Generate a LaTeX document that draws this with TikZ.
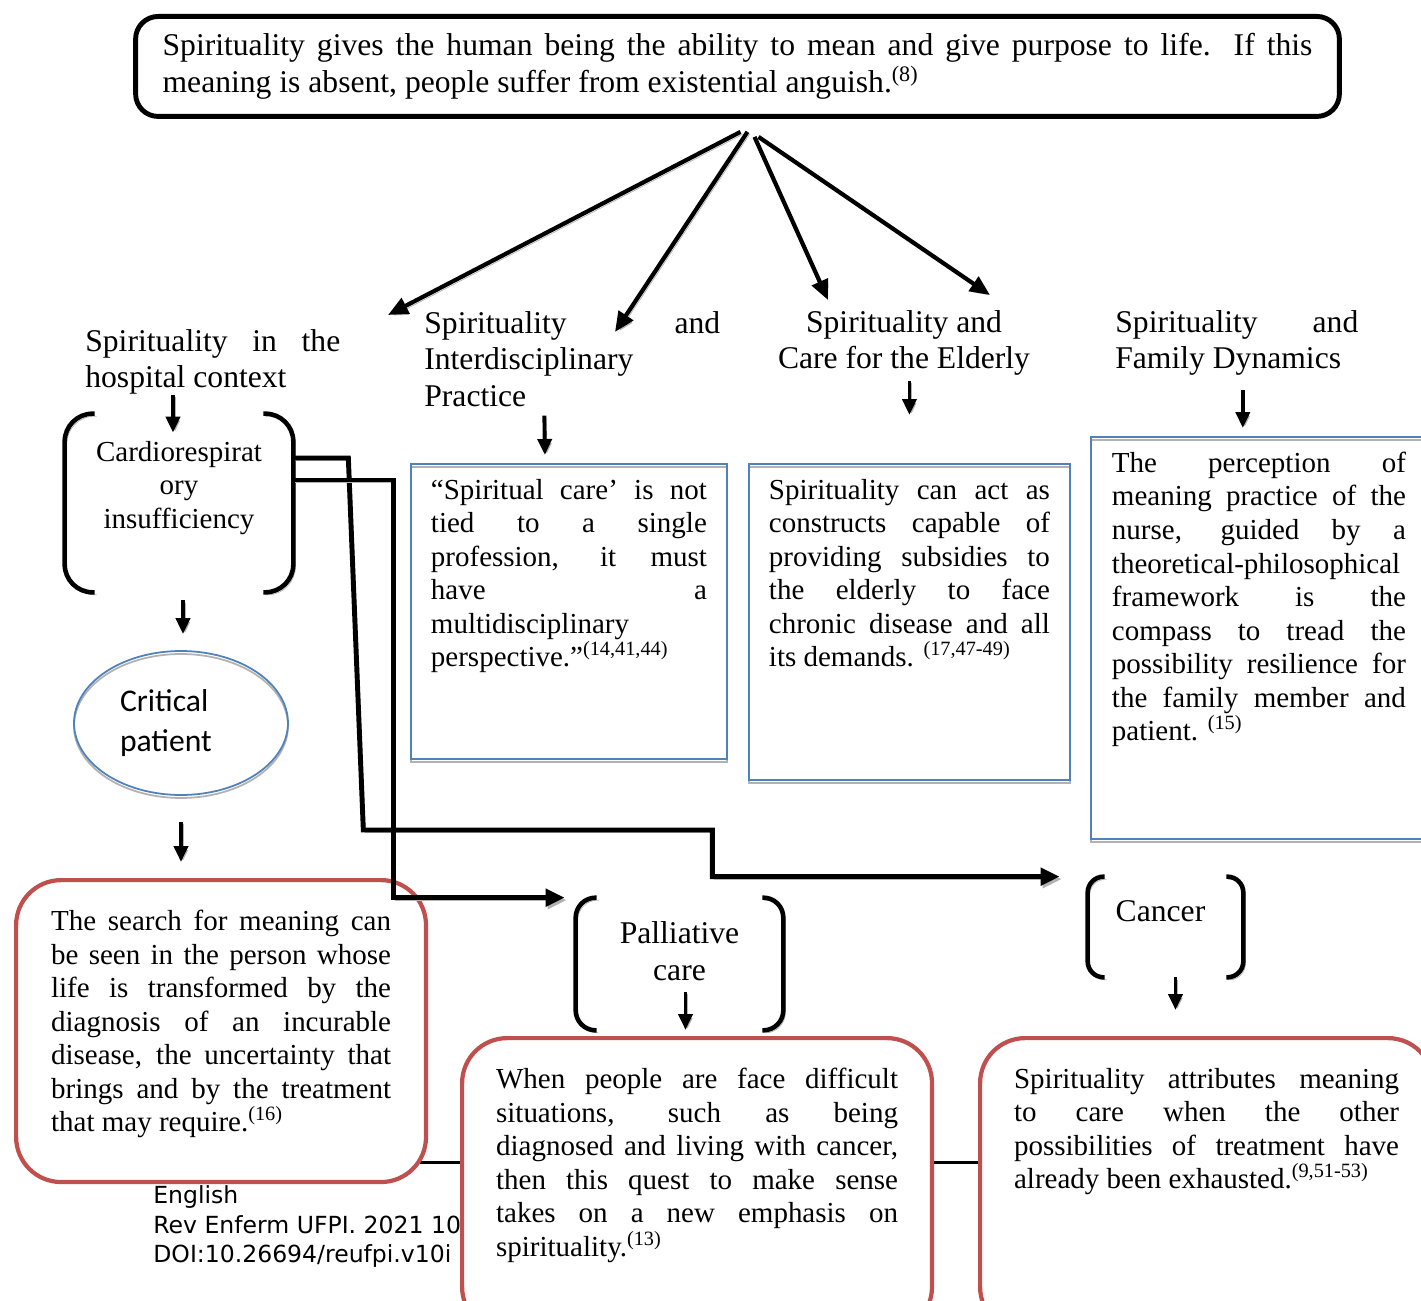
\documentclass[tikz,border=0pt]{standalone}
\usepackage{fontspec}
\setmainfont{Liberation Serif}
\newfontfamily\calibfont{Carlito}
\newfontfamily\footfont{DejaVu Sans}
\usetikzlibrary{shapes.geometric, arrows.meta, positioning, calc, backgrounds}
\definecolor{boxblue}{RGB}{79,129,189}
\definecolor{boxred}{RGB}{192,80,77}
\newcommand\bodyfont{\fontsize{16.5}{19.1}\selectfont}
\newcommand\hdrfont{\fontsize{18}{20.7}\selectfont}
\hyphenpenalty=10000
\exhyphenpenalty=10000
\begin{document}
\begin{tikzpicture}[x=0.02cm, y=-0.02cm,
  shd/.style={preaction={draw=black!30, transform canvas={shift={(0.04cm,-0.05cm)}}}},
  topbox/.style={draw, line width=2.8pt, rounded corners=0.45cm, text width=23cm, align=justify, inner xsep=0.54cm, inner ysep=0.34cm, anchor=north, font=\fontsize{18}{21}\selectfont},
  hdr/.style={font=\hdrfont, inner sep=0pt},
  blue/.style={draw=boxblue, line width=1.1pt, inner xsep=0.4cm, inner ysep=0.3cm, anchor=north west, font=\bodyfont, preaction={draw=black!30, line width=1.1pt, transform canvas={yshift=-0.06cm}}},
  red/.style={draw=boxred, fill=white, line width=2.4pt, rounded corners=0.9cm, inner xsep=0.7cm, inner ysep=0.6cm, anchor=north west, font=\bodyfont},
  brkframe/.style={inner sep=0pt},
  brk/.style={line width=2.6pt, shd},
  ell/.style={ellipse, draw=boxblue, line width=1pt, minimum width=4.28cm, minimum height=2.88cm, text width=2.44cm, align=left, font=\calibfont\fontsize{18}{22.7}\selectfont, preaction={draw=black!30, line width=1pt, transform canvas={yshift=-0.06cm}}},
  arr/.style={-{Triangle[length=0.32cm,width=0.28cm]}, line width=2.2pt, shd},
  bigarr/.style={-{Triangle[length=0.4cm,width=0.34cm]}, line width=2.4pt, shd},
  conn/.style={-{Triangle[length=0.38cm,width=0.34cm]}, line width=2.8pt, shd}
]
\useasboundingbox (0,0) rectangle (1421,1301);
% statement
\node[topbox] (top) at (737.5,14) {Spirituality gives the human being the ability to mean and give purpose to life. If this\linebreak meaning is absent, people suffer from existential anguish.\textsuperscript{(8)}};
% headings
\node[hdr, text width=5.1cm, align=justify, anchor=north west] (hosp) at (85,329) {Spirituality in the\linebreak hospital context};
\node[hdr, text width=5.92cm, align=justify, anchor=north west] (inter) at (424,311) {Spirituality and\linebreak Interdisciplinary\\Practice};
\node[hdr, align=center, anchor=north] (elder) at (904,310) {Spirituality and\\Care for the Elderly};
\node[hdr, text width=4.86cm, align=justify, anchor=north west] (fam) at (1115,310) {Spirituality and\linebreak Family Dynamics};
% bracket frames
\node[brkframe, minimum width=4.56cm, minimum height=3.56cm] (cardio) at (179,503) {};
\node[brkframe, minimum width=4.14cm, minimum height=2.64cm] (pall) at (679.5,964) {};
\node[brkframe, minimum width=3.1cm, minimum height=2.0cm] (cancer) at (1165.5,927) {};
\draw[brk, rounded corners=0.56cm] ([shift={(30,0)}]cardio.north west) -- (cardio.north west) -- (cardio.south west) -- ([shift={(30,0)}]cardio.south west);
\draw[brk, rounded corners=0.56cm] ([shift={(-30,0)}]cardio.north east) -- (cardio.north east) -- (cardio.south east) -- ([shift={(-30,0)}]cardio.south east);
\draw[brk, rounded corners=0.4cm] ([shift={(21,0)}]pall.north west) -- (pall.north west) -- (pall.south west) -- ([shift={(21,0)}]pall.south west);
\draw[brk, rounded corners=0.4cm] ([shift={(-21,0)}]pall.north east) -- (pall.north east) -- (pall.south east) -- ([shift={(-21,0)}]pall.south east);
\draw[brk, rounded corners=0.32cm] ([shift={(17,0)}]cancer.north west) -- (cancer.north west) -- (cancer.south west) -- ([shift={(17,0)}]cancer.south west);
\draw[brk, rounded corners=0.32cm] ([shift={(-17,0)}]cancer.north east) -- (cancer.north east) -- (cancer.south east) -- ([shift={(-17,0)}]cancer.south east);
\node[font=\bodyfont, align=center, inner sep=0pt, below=0.54cm of cardio.north] (cardiotxt) {Cardiorespirat\\ory\\insufficiency};
\node[hdr, align=center, below=0.48cm of pall.north] (palltxt) {Palliative\\care};
\node[hdr, below=0.48cm of cancer.north, xshift=-0.1cm] (cancertxt) {Cancer};
\node[ell] (crit) at (181,723) {Critical\\patient};
% blue boxes
\node[blue] (care) at (410,463) {\parbox[t][5.3cm][t]{5.52cm}{\bodyfont ``Spiritual care' is not\linebreak tied to a single\linebreak profession, it must\linebreak have a\linebreak multidisciplinary\linebreak perspective.''\textsuperscript{(14,41,44)}}};
\node[blue] (elderly) at (748,463) {\parbox[t][5.72cm][t]{5.62cm}{\bodyfont Spirituality can act as\linebreak constructs capable of\linebreak providing subsidies to\linebreak the elderly to face\linebreak chronic disease and all\linebreak its demands. \textsuperscript{(17,47-49)}}};
\node[blue, inner xsep=0.42cm] (family) at (1090,436) {\parbox[t][7.44cm][t]{5.88cm}{\bodyfont The perception of\linebreak meaning practice of the\linebreak nurse, guided by a\linebreak theoretical-philosophical\linebreak framework is the\linebreak compass to tread the\linebreak possibility resilience for\linebreak the family member and\linebreak patient. \textsuperscript{(15)}}};
% footer
\node[font=\footfont\fontsize{13.4}{17}\selectfont, align=left, anchor=north west, inner sep=0pt] (foot) at (153,1185) {English\\Rev Enferm UFPI. 2021 10\\DOI:10.26694/reufpi.v10i};
% red boxes
\node[red] (search) at (14,878) {\parbox[t][4.84cm][t]{6.8cm}{\bodyfont The search for meaning can\linebreak be seen in the person whose\linebreak life is transformed by the\linebreak diagnosis of an incurable\linebreak disease, the uncertainty that\linebreak brings and by the treatment\linebreak that may require.\textsuperscript{(16)}}};
\node[red, inner xsep=0.68cm] (quest) at (460,1036) {\parbox[t][4.68cm][t]{8.04cm}{\bodyfont When people are face difficult\linebreak situations, such as being\linebreak diagnosed and living with cancer,\linebreak then this quest to make sense\linebreak takes on a new emphasis on\linebreak spirituality.\textsuperscript{(13)}}};
\node[red, inner xsep=0.68cm] (meaning) at (978,1036) {\parbox[t][4.68cm][t]{7.7cm}{\bodyfont Spirituality attributes meaning\linebreak to care when the other\linebreak possibilities of treatment have\linebreak already been exhausted.\textsuperscript{(9,51-53)}}};
\begin{scope}[on background layer]
\coordinate (rule) at ($(search.east)+(0,131)$);
\draw[line width=1.7pt] (rule -| search.center) -- (rule -| quest.center);
\draw[line width=1.7pt] (rule -| quest.center) -- (rule -| meaning.center);
\end{scope}
% arrows from the statement
\coordinate (t1) at (388,315);
\coordinate (t2) at (615,332);
\coordinate (t3) at (828,300);
\coordinate (t4) at (990,295);
\draw[bigarr] ($(top.south)+(3,13)$) -- (t1);
\draw[bigarr] ($(top.south)+(10,13)$) -- (t2);
\draw[bigarr] ($(top.south)+(17,18)$) -- (t3);
\draw[bigarr] ($(top.south)+(21,18)$) -- (t4);
% short arrows
\draw[arr, shorten >=0.16cm] ($(hosp.south -| cardiotxt.north)+(-6,0)$) -- ($(cardiotxt.north)+(-6,0)$);
\draw[arr, shorten <=0.16cm, shorten >=0.32cm] ($(cardio.south)+(4,0)$) -- ($(cardio.south |- crit.north)+(4,0)$);
\draw[arr, shorten <=0.52cm, shorten >=0.32cm] (crit.south) -- (crit.south |- search.north);
\draw[arr] ($(inter.south)+(-28,9)$) -- ($(care.north)+(-24,-8)$);
\draw[arr, shorten <=0.1cm, shorten >=0.96cm] (elder.south -| elderly.north) -- (elderly.north);
\draw[arr, shorten <=0.28cm, shorten >=0.16cm] ($(fam.south)+(6,0)$) -- ($(fam.south |- family.north)+(6,0)$);
\draw[arr, shorten <=0.22cm, shorten >=0.12cm] ($(palltxt.south)+(6,0)$) -- ($(palltxt.south |- quest.north)+(6,0)$);
\draw[arr, shorten >=0.52cm] ($(cancer.south)+(10,0)$) -- ($(cancer.south |- meaning.north)+(10,0)$);
% links from cardiorespiratory insufficiency
\draw[conn] ([yshift=0.9cm]cardio.east) -- ++(55,0) -- ++(15,372) -- ++(349,0) |- ([xshift=-0.56cm]cancer.north west);
\draw[conn] ([yshift=0.46cm]cardio.east) -- ++(100,0) |- ([xshift=-0.22cm]pall.north west);
\end{tikzpicture}
\end{document}
